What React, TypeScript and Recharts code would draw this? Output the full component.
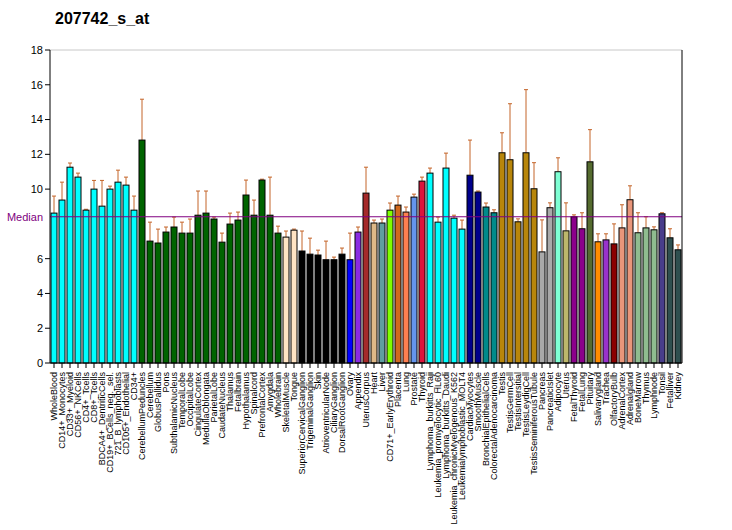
import React from 'react';
import {
    BarChart,
    Bar,
    XAxis,
    YAxis,
    CartesianGrid,
    ReferenceLine,
    Cell
} from 'recharts';

const labels = [
    'WholeBlood', 'CD14+_Monocytes', 'CD33+_Myeloid', 'CD56+_NKCells', 'CD4+_Tcells', 'CD8+_Tcells',
    'BDCA4+_DentriticCells', 'CD19+_BCells_neg._sel.', '721_B_lymphoblasts', 'CD105+_Endothelial', 'CD34+',
    'CerebellumPeduncles', 'Cerebellum', 'GlobusPallidus', 'Pons', 'SubthalamicNucleus', 'TemporalLobe',
    'OccipitalLobe', 'CingulateCortex', 'MedullaOblongata', 'ParietalLobe', 'CaudateNucleus', 'Thalamus',
    'Fetalbrain', 'Hypothalamus', 'Spinalcord', 'PrefrontalCortex', 'Amygdala', 'Wholebrain',
    'SkeletalMuscle', 'Tongue', 'SuperiorCervicalGanglion', 'TrigeminalGanglion', 'Skin',
    'AtrioventricularNode', 'CiliaryGanglion', 'DorsalRootGanglion', 'Ovary', 'Appendix', 'UterusCorpus',
    'Heart', 'Liver', 'CD71+_EarlyErythroid', 'Placenta', 'Lung', 'Prostate', 'Thyroid',
    'Lymphoma_burkitts_Raji', 'Leukemia_promyelocytic_HL60', 'Lymphoma_burkitts_Daudi',
    'Leukemia_chronicMyelogenous_K562', 'Leukemialymphoblastic_MOLT4', 'CardiacMyocytes', 'SmoothMuscle',
    'BronchialEpithelialCells', 'ColorectalAdenocarcinoma', 'Testis', 'TestisGermCell', 'TestisIntersitial',
    'TestisLeydigCell', 'TestisSeminiferousTubule', 'Pancreas', 'PancreaticIslet', 'Adipocyte', 'Uterus',
    'FetalThyroid', 'FetalLung', 'Pituitary', 'Salivarygland', 'Trachea', 'OlfactoryBulb', 'AdrenalCortex',
    'Adrenalgland', 'BoneMarrow', 'Thymus', 'Lymphnode', 'Tonsil', 'Fetalliver', 'Kidney'
];

const values = [
    8.62, 9.37, 11.26, 10.69, 8.79, 10.0, 9.02, 10.0, 10.4, 10.23, 8.79,
    12.82, 7.01, 6.9, 7.53, 7.82, 7.47, 7.47, 8.5, 8.62, 8.28, 6.95, 7.99, 8.22, 9.66, 8.5, 10.52, 8.5, 7.47,
    7.24, 7.64, 6.44, 6.26, 6.21, 5.94, 5.94, 6.26, 5.94, 7.53, 9.77, 8.05, 8.05, 8.79, 9.08, 8.68, 9.54, 10.46,
    10.92, 8.1, 11.21, 8.33, 7.7, 10.8, 9.83, 8.97, 8.64,
    12.09, 11.69, 8.12, 12.09, 10.02, 6.39, 8.93, 11.0, 7.6, 8.41, 7.72, 11.57, 6.97, 7.08, 6.85, 7.77, 9.39,
    7.49, 7.77, 7.66, 8.58, 7.2, 6.51
];

// upper end of each error bar
const errorTops = [
    9.6, 10.4, 11.5, 10.92, 8.84, 10.5, 10.5, 10.17, 11.09, 10.69, 9.6,
    15.17, 8.1, 7.7, 7.82, 8.39, 8.1, 8.28, 9.89, 9.89, 8.39, 7.47, 8.62, 8.68, 10.52, 9.37, 10.57, 10.69, 7.87,
    7.59, 7.7, 7.59, 7.18, 6.49, 7.01, 6.09, 6.61, 7.47, 7.82, 11.26, 8.22, 8.28, 9.2, 9.6, 8.97, 9.71, 10.69,
    11.21, 8.39, 12.07, 8.5, 8.22, 12.82, 9.89, 9.2, 8.81,
    13.24, 14.91, 8.29, 15.72, 11.52, 8.23, 9.21, 11.8, 9.21, 8.52, 8.64, 13.42, 7.43, 7.43, 8.0, 9.1, 10.19,
    8.64, 8.41, 7.83, 8.64, 7.72, 6.79
];

const MEDIAN = 8.41;

const colors = [
    ...Array(11).fill('#00FFFF'),
    ...Array(18).fill('#006400'),
    '#FFE4C4', '#FFE4C4',
    ...Array(6).fill('#000000'),
    '#0000FF', '#8A2BE2', '#A52A2A', '#DEB887', '#5F9EA0', '#7FFF00', '#D2691E', '#FF7F50', '#6495ED', '#DC143C',
    ...Array(5).fill('#00FFFF'),
    '#00008B', '#00008B', '#008B8B', '#008B8B',
    ...Array(5).fill('#B8860B'),
    '#A9A9A9', '#A9A9A9', '#7FFFD4', '#BDB76B', '#8B008B', '#8B008B', '#556B2F', '#FF8C00', '#9932CC', '#8B0000',
    '#E9967A', '#E9967A', '#8FBC8F', '#8FBC8F', '#8FBC8F', '#483D8B', '#2F4F4F', '#2F4F4F'
];

const data = labels.map((name, i) => ({ name, value: values[i], err: errorTops[i] }));

const yTicks = [0, 2, 4, 6, 8, 10, 12, 14, 16, 18];
// the left axis leaves 8 out, the median label sits there
const yTicksLeft = [0, 2, 4, 6, 10, 12, 14, 16, 18];
const ERR_COLOR = '#C46428';

const BarWithError = (props: any) => {
    const { x, y, width, height, payload, fill } = props;
    const pxPerUnit = height / payload.value;
    const errY = y + height - payload.err * pxPerUnit;
    const cx = x + width / 2;
    return (
        <g>
            {errY < y - 0.5 && (
                <g stroke={ERR_COLOR} strokeWidth={1}>
                    <line x1={cx} x2={cx} y1={y} y2={errY} />
                    <line x1={cx - 2} x2={cx + 2} y1={errY} y2={errY} />
                </g>
            )}
            <rect x={x} y={y} width={width} height={height} fill={fill} stroke="#000" strokeWidth={1} />
        </g>
    );
};

const XTick = (props: any) => {
    const { x, y, payload } = props;
    return (
        <text
            x={x + 3}
            y={y + 2}
            transform={`rotate(-90, ${x + 3}, ${y + 2})`}
            textAnchor="end"
            fontSize={9}
            fill="#000"
        >
            {payload.value}
        </text>
    );
};

export default function App() {
    return (
        <div style={{ position: 'absolute', left: 0, top: 0, width: 732, height: 530, background: '#fff', fontFamily: '"Liberation Sans", Arial, sans-serif' }}>
            <div style={{ position: 'absolute', left: 55, top: 10, fontSize: 16, fontWeight: 'bold', color: '#000' }}>
                207742_s_at
            </div>
            <BarChart
                width={732}
                height={530}
                data={data}
                margin={{ top: 50, right: 0, bottom: 0, left: 0 }}
                barCategoryGap={1}
            >
                <CartesianGrid vertical={false} stroke="#C8C8C8" yAxisId="right" />
                <XAxis
                    dataKey="name"
                    interval={0}
                    height={167}
                    tick={<XTick />}
                    tickSize={5}
                    tickLine={{ stroke: '#000' }}
                    axisLine={{ stroke: '#000' }}
                />
                <YAxis
                    yAxisId="left"
                    width={50}
                    domain={[0, 18]}
                    ticks={yTicksLeft}
                    tickSize={5}
                    tickLine={{ stroke: '#000' }}
                    axisLine={{ stroke: '#000' }}
                    tick={{ fill: '#000', fontSize: 11 }}
                />
                <YAxis
                    yAxisId="right"
                    orientation="right"
                    width={50}
                    domain={[0, 18]}
                    ticks={yTicks}
                    tickSize={5}
                    tickLine={{ stroke: '#000' }}
                    axisLine={{ stroke: '#000' }}
                    tick={{ fill: '#000', fontSize: 11 }}
                />
                <Bar yAxisId="left" dataKey="value" shape={<BarWithError />} isAnimationActive={false}>
                    {data.map((d, i) => (
                        <Cell key={`cell-${i}`} fill={colors[i]} />
                    ))}
                </Bar>
                <ReferenceLine
                    yAxisId="left"
                    y={MEDIAN}
                    stroke="#800080"
                    strokeWidth={1}
                    label={{ value: 'Median', position: 'left', offset: 7, fill: '#800080', fontSize: 11 }}
                />
            </BarChart>
        </div>
    );
}
